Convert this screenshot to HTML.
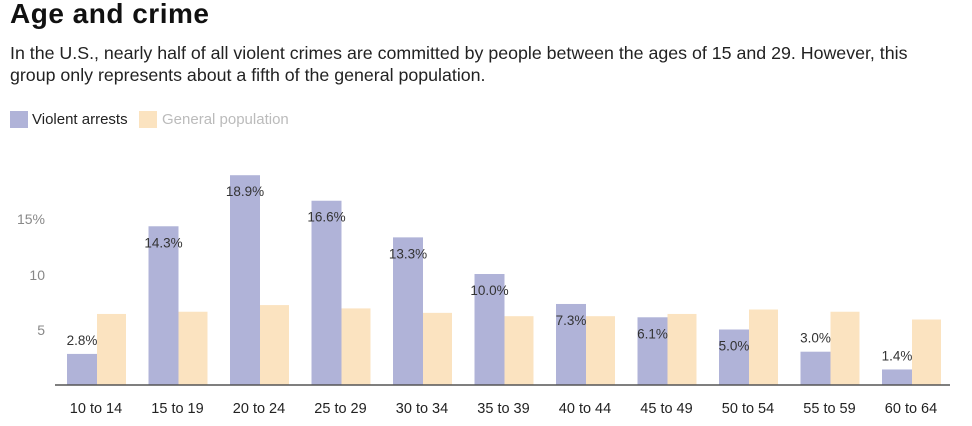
<!DOCTYPE html><html><head><style>
body{margin:0;width:972px;height:426px;background:#fff;font-family:"Liberation Sans",sans-serif;position:relative;overflow:hidden}
.a{position:absolute;white-space:nowrap}
</style></head><body>
<div class="a" style="left:10px;top:-2px;font-size:28px;font-weight:bold;color:#111;letter-spacing:0.5px">Age and crime</div>
<div class="a" style="left:10px;top:42px;font-size:17.8px;color:#222;line-height:22px">In the U.S., nearly half of all violent crimes are committed by people between the ages of 15 and 29. However, this<br>group only represents about a fifth of the general population.</div>
<div class="a" style="left:10px;top:111px;width:18px;height:17px;background:#b0b3d8"></div>
<div class="a" style="left:32px;top:111px;font-size:15px;color:#222">Violent arrests</div>
<div class="a" style="left:139px;top:111px;width:18px;height:17px;background:#fbe3c0"></div>
<div class="a" style="left:162px;top:111px;font-size:15px;color:#bbb">General population</div>
<svg class="a" style="left:0;top:0" width="972" height="426" font-family="Liberation Sans, sans-serif">
<g font-size="14" fill="#888" text-anchor="end"><text x="45" y="224">15%</text><text x="45" y="280">10</text><text x="45" y="335">5</text></g>
<g id="b"></g>
<line x1="55" y1="385" x2="950" y2="385" stroke="#555" stroke-width="1.5"/>
</svg>
<script>
var v=[2.8,14.3,18.9,16.6,13.3,10.0,7.3,6.1,5.0,3.0,1.4],p=[6.4,6.6,7.2,6.9,6.5,6.2,6.2,6.4,6.8,6.6,5.9],
l=["10 to 14","15 to 19","20 to 24","25 to 29","30 to 34","35 to 39","40 to 44","45 to 49","50 to 54","55 to 59","60 to 64"],s="";
for(var i=0;i<11;i++){var x=67+i*81.5,h=v[i]*11.1,h2=p[i]*11.1;
s+='<rect x="'+x+'" y="'+(385-h)+'" width="30" height="'+h+'" fill="#b0b3d8"/>';
s+='<rect x="'+(x+30)+'" y="'+(385-h2)+'" width="29" height="'+h2+'" fill="#fbe3c0"/>';
var ty=v[i]>4?385-h+21:385-h-9;
s+='<text x="'+(x+15)+'" y="'+ty+'" font-size="13.5" fill="#333" text-anchor="middle">'+v[i].toFixed(1)+'%</text>';
s+='<text x="'+(x+29)+'" y="413" font-size="14.5" fill="#222" text-anchor="middle">'+l[i]+'</text>';}
document.getElementById("b").innerHTML=s;
</script>
</body></html>
